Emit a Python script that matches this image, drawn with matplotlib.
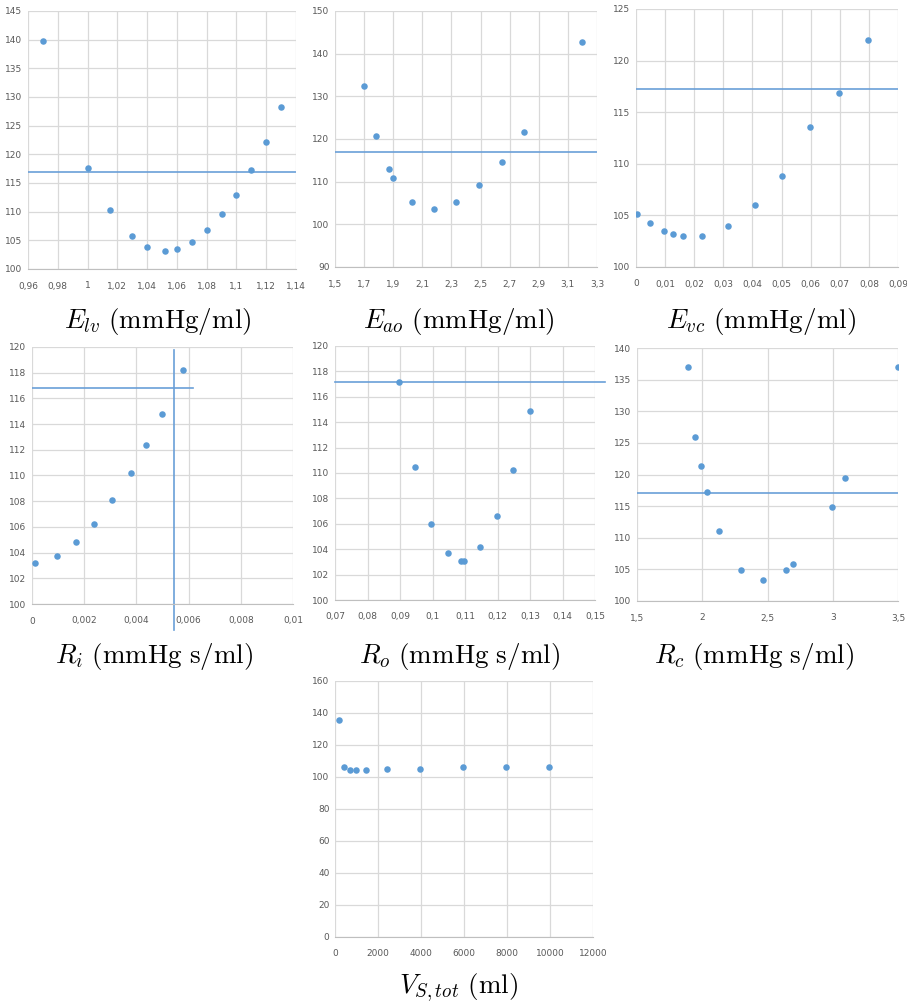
import numpy as np
import matplotlib
matplotlib.use("Agg")
import matplotlib.pyplot as plt

plt.rcParams['mathtext.fontset'] = 'cm'
plt.rcParams['font.family'] = ['Liberation Sans Narrow', 'DejaVu Sans']

W, H = 907, 1007
dot = '#5b9bd5'
line_c = '#6a9fd8'
grid_c = '#d9d9d9'
tick_c = '#595959'

# sensitivity sweeps: parameter value vs. resulting pressure
elv_x = [0.97, 1.0, 1.015, 1.03, 1.04, 1.052, 1.06, 1.07, 1.08, 1.09, 1.10, 1.11, 1.12, 1.13]
elv_y = [139.8, 117.7, 110.3, 105.8, 103.9, 103.2, 103.5, 104.7, 106.8, 109.6, 112.9, 117.2, 122.2, 128.3]

eao_x = [1.7, 1.78, 1.87, 1.9, 2.03, 2.18, 2.33, 2.49, 2.65, 2.8, 3.2]
eao_y = [132.4, 120.6, 112.9, 110.9, 105.2, 103.5, 105.2, 109.2, 114.6, 121.6, 142.8]

evc_x = [0.0005, 0.0047, 0.0096, 0.0128, 0.016, 0.0227, 0.0317, 0.041, 0.0503, 0.0596, 0.0698, 0.0797]
evc_y = [105.1, 104.3, 103.5, 103.2, 103.0, 103.0, 104.0, 106.0, 108.8, 113.6, 116.9, 122.0]

ri_x = [0.0001, 0.00097, 0.00169, 0.00238, 0.00308, 0.00379, 0.00437, 0.00498, 0.00579]
ri_y = [103.2, 103.7, 104.8, 106.2, 108.1, 110.2, 112.4, 114.8, 118.2]

ro_x = [0.0897, 0.0947, 0.0996, 0.1048, 0.1088, 0.1096, 0.1146, 0.1198, 0.1248, 0.1299]
ro_y = [117.2, 110.5, 106.0, 103.7, 103.1, 103.1, 104.2, 106.6, 110.2, 114.9]

rc_x = [1.89, 1.948, 1.992, 2.038, 2.127, 2.30, 2.468, 2.642, 2.693, 2.998, 3.093, 3.5]
rc_y = [137.0, 126.0, 121.3, 117.2, 111.1, 104.9, 103.3, 104.9, 105.8, 114.9, 119.5, 137.0]

vs_x = [200, 430, 700, 960, 1450, 2430, 3960, 5950, 7960, 9950]
vs_y = [135.4, 106.0, 104.3, 104.3, 104.3, 105.1, 105.1, 106.2, 106.2, 106.2]

# reference pressure level drawn in each panel
ref_p = [116.9, 116.9, 117.2, 116.8, 117.2, 117.0]

panels = [
    # x, y, xlim, xstep, ylim, ystep, box (left, top, right, bottom in px), label, label centre
    (elv_x, elv_y, (0.96, 1.14), 0.02, (100, 145), 5, (28, 11, 296, 269),
     r'$E_{lv}\ \mathrm{(mmHg/ml)}$', (158, 322)),
    (eao_x, eao_y, (1.5, 3.3), 0.2, (90, 150), 10, (335, 11, 597, 267),
     r'$E_{ao}\ \mathrm{(mmHg/ml)}$', (459, 322)),
    (evc_x, evc_y, (0, 0.09), 0.01, (100, 125), 5, (636, 9, 898, 267),
     r'$E_{vc}\ \mathrm{(mmHg/ml)}$', (761, 322)),
    (ri_x, ri_y, (0, 0.01), 0.002, (100, 120), 2, (32, 347, 293, 604),
     r'$R_{i}\ \mathrm{(mmHg\ s/ml)}$', (154, 657)),
    (ro_x, ro_y, (0.07, 0.15), 0.01, (100, 120), 2, (335, 346, 595, 600),
     r'$R_{o}\ \mathrm{(mmHg\ s/ml)}$', (459, 657)),
    (rc_x, rc_y, (1.5, 3.5), 0.5, (100, 140), 5, (637, 348, 898, 601),
     r'$R_{c}\ \mathrm{(mmHg\ s/ml)}$', (754, 657)),
    (vs_x, vs_y, (0, 12000), 2000, (0, 160), 20, (335, 681, 593, 937),
     r'$V_{S,tot}\ \mathrm{(ml)}$', (458, 988)),
]


def fmt(v):
    return ('%g' % round(v, 6)).replace('.', ',')


fig = plt.figure(figsize=(W / 100, H / 100), dpi=100)
axes = []
for i, (x, y, xl, xs, yl, ys, box, label, cen) in enumerate(panels):
    l, t, r, b = box
    ax = fig.add_axes([l / W, 1 - b / H, (r - l) / W, (b - t) / H])
    xt = np.arange(xl[0], xl[1] + xs / 2, xs)
    yt = np.arange(yl[0], yl[1] + ys / 2, ys)
    ax.set_xlim(xl)
    ax.set_ylim(yl)
    ax.set_xticks(xt)
    ax.set_yticks(yt)
    ax.set_xticklabels([fmt(v) for v in xt])
    ax.set_yticklabels([fmt(v) for v in yt])
    ax.grid(True, color=grid_c, lw=0.9)
    ax.set_axisbelow(True)
    for s in ['top', 'right', 'left']:
        ax.spines[s].set_visible(False)
    ax.spines['bottom'].set_color('#bfbfbf')
    ax.tick_params(length=0, labelsize=6.5, colors=tick_c)
    ax.tick_params(axis='x', pad=9)
    ax.tick_params(axis='y', pad=4)
    ax.scatter(x, y, s=22, color=dot, zorder=3, lw=0)
    fig.text(cen[0] / W, 1 - cen[1] / H, label, fontsize=19.5,
             ha='center', va='center')
    axes.append(ax)

# horizontal reference levels
axes[0].plot([0.96, 1.14], [ref_p[0]] * 2, color=line_c, lw=1.2)
axes[1].plot([1.5, 3.3], [ref_p[1]] * 2, color=line_c, lw=1.2)
axes[2].plot([0, 0.09], [ref_p[2]] * 2, color=line_c, lw=1.2)
axes[3].plot([0, 0.00617], [ref_p[3]] * 2, color=line_c, lw=1.2)
axes[3].plot([0.00543, 0.00543], [98.0, 119.8], color=line_c, lw=1.2, clip_on=False)
axes[4].plot([0.07, 0.1531], [ref_p[4]] * 2, color=line_c, lw=1.2, clip_on=False)
axes[5].plot([1.5, 3.5], [ref_p[5]] * 2, color=line_c, lw=1.2)

fig.savefig('out.png', dpi=100)
